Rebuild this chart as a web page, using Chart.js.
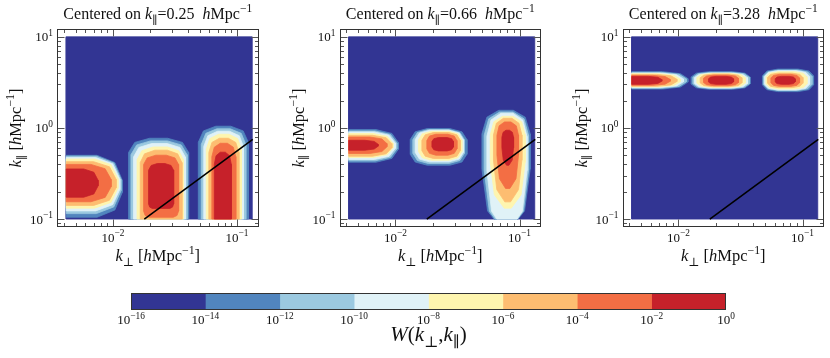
<!DOCTYPE html>
<html><head><meta charset="utf-8">
<script src="https://cdn.jsdelivr.net/npm/chart.js@4.4.1/dist/chart.umd.min.js"></script>
<style>
html,body{margin:0;padding:0;background:#fff;}
#wrap{position:relative;width:830px;height:358px;overflow:hidden;}
canvas{position:absolute;left:0;top:0;}
</style></head><body>
<div id="wrap">
<canvas id="p0" width="830" height="358"></canvas>
<canvas id="p1" width="830" height="358"></canvas>
<canvas id="p2" width="830" height="358"></canvas>
<canvas id="cb" width="830" height="358"></canvas>
</div>
<script>
// ---------------- data ----------------
const panelCenters = ["0.25", "0.66", "3.28"];          // k_par of the window centre [h/Mpc]
const xAxisLimits = [0.00354, 0.149];                  // k_perp axis range
const yAxisLimits = [0.0825, 12.1];                    // k_par axis range
const kPerpExtent = [0.0042, 0.1327];                  // computed region
const kParExtent = [0.1, 10];
const xTickExps = [-2, -1];
const yTickExps = [-1, 0, 1];
const levelExps = [-16, -14, -12, -10, -8, -6, -4, -2, 0];   // contour levels 10^n
const levelColors = ['#323593', '#5185be', '#9bc9e0', '#e0f2f7', '#fef5af', '#fdbd71', '#f36e44', '#c6212a'];
const wedgeKPerp = [0.0179, 0.134];
const wedgeKPar = [0.1, 0.75];

// contour extents per level 10^-14 ... 10^-2 : [log10 kperp min, max, log10 kpar min, max]
const p1BlobA = [[-2.377,-1.925,-0.98,-0.30],[-2.377,-1.935,-0.94,-0.31],[-2.377,-1.945,-0.91,-0.325],[-2.377,-1.960,-0.88,-0.34],[-2.377,-1.975,-0.85,-0.37],[-2.377,-2.015,-0.81,-0.40],[-2.377,-2.120,-0.76,-0.45]];
const p1BlobB = [[-1.874,-1.390,-1.15,-0.113],[-1.855,-1.403,-1.15,-0.142],[-1.834,-1.417,-1.15,-0.171],[-1.806,-1.431,-1.15,-0.208],[-1.780,-1.444,-1.15,-0.244],[-1.753,-1.471,-0.98,-0.299],[-1.713,-1.511,-0.883,-0.390]];
const p1BlobC = [[-1.312,-0.909,-1.15,0.019],[-1.288,-0.929,-1.15,-0.009],[-1.268,-0.949,-1.15,-0.036],[-1.248,-0.965,-1.15,-0.069],[-1.227,-0.985,-1.15,-0.113],[-1.203,-1.010,-1.15,-0.168],[-1.183,-1.046,-1.15,-0.266]];
const p2BlobA = [[-2.377,-1.976,-0.376,-0.018],[-2.377,-1.989,-0.361,-0.033],[-2.377,-2.002,-0.346,-0.044],[-2.377,-2.019,-0.324,-0.061],[-2.377,-2.029,-0.310,-0.080],[-2.377,-2.069,-0.280,-0.099],[-2.377,-2.140,-0.244,-0.135]];
const p2BlobB = [[-1.881,-1.424,-0.409,-0.007],[-1.860,-1.444,-0.390,-0.018],[-1.841,-1.452,-0.372,-0.025],[-1.815,-1.465,-0.354,-0.036],[-1.787,-1.478,-0.335,-0.050],[-1.747,-1.505,-0.299,-0.069],[-1.706,-1.532,-0.252,-0.105]];
const p2BlobC = [[-1.303,-0.914,-1.10,0.194],[-1.285,-0.927,-1.10,0.175],[-1.263,-0.940,-1.10,0.161],[-1.236,-0.954,-0.880,0.128],[-1.210,-0.981,-0.811,0.106],[-1.182,-1.008,-0.664,0.066],[-1.142,-1.048,-0.409,-0.025]];
const p3BlobA = [[-2.377,-1.924,0.427,0.618],[-2.377,-1.938,0.435,0.610],[-2.377,-1.960,0.443,0.602],[-2.377,-1.986,0.449,0.596],[-2.377,-2.013,0.457,0.588],[-2.377,-2.067,0.468,0.577],[-2.377,-2.134,0.479,0.566]];
const p3BlobB = [[-1.898,-1.422,0.424,0.618],[-1.884,-1.430,0.432,0.610],[-1.871,-1.444,0.438,0.602],[-1.852,-1.462,0.446,0.599],[-1.825,-1.489,0.453,0.592],[-1.798,-1.516,0.464,0.580],[-1.758,-1.556,0.479,0.566]];
const p3BlobC = [[-1.323,-0.911,0.399,0.646],[-1.315,-0.924,0.410,0.635],[-1.306,-0.943,0.416,0.629],[-1.295,-0.964,0.427,0.618],[-1.282,-0.997,0.443,0.602],[-1.255,-1.024,0.457,0.588],[-1.220,-1.059,0.479,0.566]];

// ---------------- shapes (style) ----------------
const SHAPES = {
  round: [[0.3,0.3],[0.3,0.3],[0.3,0.3],[0.3,0.3]],
  edge:  [[0,0],[0.45,0.4],[0.45,0.4],[0,0]],
  tall:  [[0.35,0.15],[0.35,0.15],[0.15,0.1],[0.15,0.1]],
  drop:  [[0.35,0.2],[0.35,0.2],[0.4,0.5],[0.4,0.5]]
};
const panels = [
  {blobs: [[p1BlobA,'edge'],[p1BlobB,'tall'],[p1BlobC,'tall']]},
  {blobs: [[p2BlobA,'edge'],[p2BlobB,'round'],[p2BlobC,'drop']]},
  {blobs: [[p3BlobA,'edge'],[p3BlobB,'round'],[p3BlobC,'round']]}
];
const panelLefts = [57, 339.5, 622.5];
const panelW = 201.5, panelTop = 29.3, panelBottom = 226.7;
const FAM = '"Liberation Serif","DejaVu Serif",serif';

function roundedBox(e, s) {
  const [x0,x1,y0,y1] = e, w = x1-x0, h = y1-y0, k = 0.293;
  const [tl,tr,br,bl] = s;
  return [
    [x0, y1-tl[1]*h],[x0+k*tl[0]*w, y1-k*tl[1]*h],[x0+tl[0]*w, y1],
    [x1-tr[0]*w, y1],[x1-k*tr[0]*w, y1-k*tr[1]*h],[x1, y1-tr[1]*h],
    [x1, y0+br[1]*h],[x1-k*br[0]*w, y0+k*br[1]*h],[x1-br[0]*w, y0],
    [x0+bl[0]*w, y0],[x0+k*bl[0]*w, y0+k*bl[1]*h],[x0, y0+bl[1]*h]
  ];
}
function clipPoly(pts, xmin, xmax, ymin, ymax) {
  const ix = (a,b,X)=>{const t=(X-a[0])/(b[0]-a[0]);return [X,a[1]+t*(b[1]-a[1])];};
  const iy = (a,b,Y)=>{const t=(Y-a[1])/(b[1]-a[1]);return [a[0]+t*(b[0]-a[0]),Y];};
  const edges = [
    [p=>p[0]>=xmin,(a,b)=>ix(a,b,xmin)],[p=>p[0]<=xmax,(a,b)=>ix(a,b,xmax)],
    [p=>p[1]>=ymin,(a,b)=>iy(a,b,ymin)],[p=>p[1]<=ymax,(a,b)=>iy(a,b,ymax)]];
  let out = pts;
  for (const [inside, inter] of edges) {
    const inp = out; out = [];
    for (let i=0;i<inp.length;i++) {
      const cur = inp[i], prev = inp[(i+inp.length-1)%inp.length];
      const ci = inside(cur), pi = inside(prev);
      if (ci) { if (!pi) out.push(inter(prev,cur)); out.push(cur); }
      else if (pi) out.push(inter(prev,cur));
    }
  }
  return out;
}
const LX = [Math.log10(kPerpExtent[0]), Math.log10(kPerpExtent[1])];
const LY = [Math.log10(kParExtent[0]), Math.log10(kParExtent[1])];

function polyDataset(data, color, order) {
  data.push(data[0]);
  return {data, fill:'shape', backgroundColor:color, borderColor:color, borderWidth:0.8,
          pointRadius:0, pointHoverRadius:0, tension:0, order};
}
function panelDatasets(panel) {
  const ds = [];
  ds.push(polyDataset([
    {x:kPerpExtent[0],y:kParExtent[0]},{x:kPerpExtent[1],y:kParExtent[0]},
    {x:kPerpExtent[1],y:kParExtent[1]},{x:kPerpExtent[0],y:kParExtent[1]}], levelColors[0], 1000));
  for (const [levels, shape] of panel.blobs) {
    levels.forEach((ext, i) => {
      const lvl = i + 1;
      const poly = clipPoly(roundedBox(ext, SHAPES[shape]), LX[0], LX[1], LY[0], LY[1]);
      ds.push(polyDataset(poly.map(([lx,ly])=>({x:Math.pow(10,lx), y:Math.pow(10,ly)})), levelColors[lvl], 100-lvl));
    });
  }
  ds.push({data:[{x:wedgeKPerp[0],y:wedgeKPar[0]},{x:wedgeKPerp[1],y:wedgeKPar[1]}],
    borderColor:'#000', borderWidth:1.6, fill:false, pointRadius:0, pointHoverRadius:0, order:0});
  return ds;
}

function rich(ctx, parts, x, y, align, size) {
  const items = parts.map(([t, s]) => {
    const small = (s==='sub'||s==='sup');
    const fs = small ? size*0.72 : size;
    const font = (s==='i' ? 'italic ' : '') + fs + 'px ' + FAM;
    ctx.font = font;
    return {t, font, w: ctx.measureText(t).width, dy: s==='sub' ? size*0.3 : (s==='sup' ? -size*0.42 : 0)};
  });
  const total = items.reduce((a,b)=>a+b.w, 0);
  let cx = align==='center' ? x-total/2 : (align==='right' ? x-total : x);
  ctx.textAlign = 'left'; ctx.textBaseline = 'alphabetic';
  for (const it of items) { ctx.font = it.font; ctx.fillText(it.t, cx, y+it.dy); cx += it.w; }
}
const expStr = e => (e < 0 ? '\u2212' + (-e) : '' + e);
const unitParts = [['h','i'],['Mpc','r'],['\u22121','sup']];

function logTicks(min, max) {
  const out = [];
  for (let e = Math.floor(Math.log10(min)); e <= Math.ceil(Math.log10(max)); e++)
    for (let m = 1; m <= 9; m++) { const v = m*Math.pow(10,e); if (v >= min && v <= max) out.push([v, m===1]); }
  return out;
}

const panelDecor = {
  id: 'panelDecor',
  afterDraw(chart) {
    const {ctx, chartArea:a, scales:{x, y}} = chart;
    const idx = chart.options.plugins.panelDecor.index;
    ctx.save();
    const L = Math.round(a.left)+0.5, R = Math.round(a.right)-0.5, T = Math.round(a.top)+0.5, B = Math.round(a.bottom)-0.5;
    ctx.strokeStyle = '#555'; ctx.lineWidth = 1;
    ctx.beginPath();
    for (const [v, major] of logTicks(x.min, x.max)) {
      const px = Math.round(x.getPixelForValue(v))+0.5, len = major ? 7 : 3.5;
      ctx.moveTo(px, B); ctx.lineTo(px, B-len); ctx.moveTo(px, T); ctx.lineTo(px, T+len);
    }
    for (const [v, major] of logTicks(y.min, y.max)) {
      const py = Math.round(y.getPixelForValue(v))+0.5, len = major ? 7 : 3.5;
      ctx.moveTo(L, py); ctx.lineTo(L+len, py); ctx.moveTo(R, py); ctx.lineTo(R-len, py);
    }
    ctx.stroke();
    ctx.strokeStyle = '#333';
    ctx.strokeRect(L, T, R-L, B-T);
    ctx.fillStyle = '#111';
    for (const e of xTickExps) {
      const px = x.getPixelForValue(Math.pow(10,e));
      rich(ctx, [['10','r'],[expStr(e),'sup']], px, a.bottom+15, 'center', 13);
    }
    for (const e of yTickExps) {
      const py = y.getPixelForValue(Math.pow(10,e));
      rich(ctx, [['10','r'],[expStr(e),'sup']], a.left-4, py+4.5, 'right', 13);
    }
    const cx = (a.left+a.right)/2;
    rich(ctx, [['Centered on ','r'],['k','i'],['\u2225','sub'],['=' + panelCenters[idx] + '  ','r']].concat(unitParts), cx, 19, 'center', 16);
    rich(ctx, [['k','i'],['\u22a5','sub'],[' [','r']].concat(unitParts, [[']','r']]), cx, 261, 'center', 16.5);
    ctx.save();
    ctx.translate(a.left-36, (a.top+a.bottom)/2);
    ctx.rotate(-Math.PI/2);
    rich(ctx, [['k','i'],['\u2225','sub'],[' [','r']].concat(unitParts, [[']','r']]), 0, 0, 'center', 16.5);
    ctx.restore();
    ctx.restore();
  }
};

panels.forEach((panel, i) => {
  const left = panelLefts[i];
  new Chart(document.getElementById('p'+i), {
    type: 'line',
    data: {datasets: panelDatasets(panel)},
    options: {
      responsive:false, animation:false, events:[],
      layout:{padding:{left:left, right:830-left-panelW, top:panelTop, bottom:358-panelBottom}},
      scales:{
        x:{type:'logarithmic', min:xAxisLimits[0], max:xAxisLimits[1], display:false},
        y:{type:'logarithmic', min:yAxisLimits[0], max:yAxisLimits[1], display:false}
      },
      plugins:{legend:{display:false}, tooltip:{enabled:false}, panelDecor:{index:i}}
    },
    plugins:[panelDecor]
  });
});

// ---------------- colour bar ----------------
const cbDecor = {
  id: 'cbDecor',
  afterDraw(chart) {
    const {ctx, chartArea:a, scales:{x}} = chart;
    ctx.save();
    ctx.strokeStyle = '#333'; ctx.lineWidth = 1;
    ctx.strokeRect(Math.round(a.left)+0.5, Math.round(a.top)+0.5, Math.round(a.right-a.left)-1, Math.round(a.bottom-a.top)-1);
    ctx.fillStyle = '#111';
    for (const e of levelExps) {
      rich(ctx, [['10','r'],[expStr(e),'sup']], x.getPixelForValue(Math.pow(10,e)), a.bottom+14, 'center', 13);
    }
    rich(ctx, [['W','i'],['(','r'],['k','i'],['\u22a5','sub'],[',','r'],['k','i'],['\u2225','sub'],[')','r']], (a.left+a.right)/2, a.bottom+31, 'center', 21);
    ctx.restore();
  }
};
new Chart(document.getElementById('cb'), {
  type: 'bar',
  data: {
    labels: ['W'],
    datasets: levelColors.map((c, i) => ({
      data: [[Math.pow(10, levelExps[i]), Math.pow(10, levelExps[i+1])]],
      backgroundColor: c, borderWidth: 0, grouped: false, barPercentage: 1, categoryPercentage: 1
    }))
  },
  options: {
    indexAxis: 'y', responsive:false, animation:false, events:[],
    layout:{padding:{left:131, right:104, top:293, bottom:48}},
    scales:{
      x:{type:'logarithmic', min:1e-16, max:1, display:false},
      y:{display:false}
    },
    plugins:{legend:{display:false}, tooltip:{enabled:false}}
  },
  plugins:[cbDecor]
});
</script>
</body></html>
